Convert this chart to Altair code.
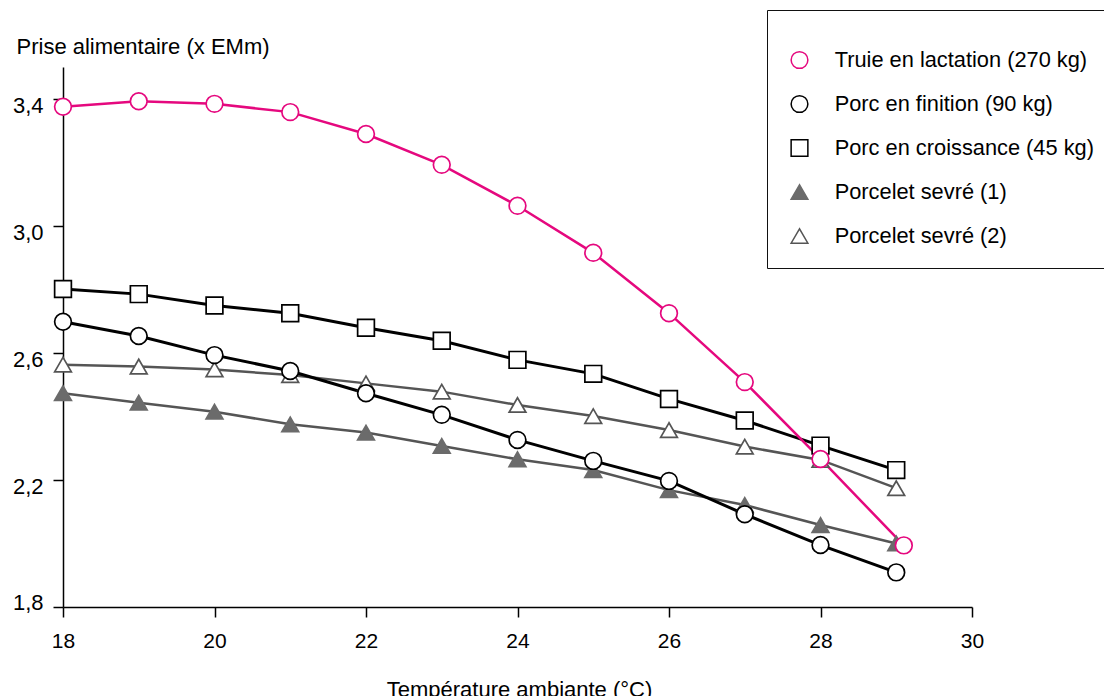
import altair as alt
import pandas as pd

temps = [18, 19, 20, 21, 22, 23, 24, 25, 26, 27, 28, 29]
truie_temps = [18, 19, 20, 21, 22, 23, 24, 25, 26, 27, 28, 29.1]

series_names = [
    "Truie en lactation (270 kg)",
    "Porc en finition (90 kg)",
    "Porc en croissance (45 kg)",
    "Porcelet sevré (1)",
    "Porcelet sevré (2)",
]

truie = [3.375, 3.392, 3.384, 3.358, 3.289, 3.192, 3.063, 2.915, 2.725, 2.508, 2.266, 1.994]
finition = [2.698, 2.653, 2.593, 2.543, 2.473, 2.405, 2.326, 2.260, 2.197, 2.092, 1.995, 1.909]
croissance = [2.801, 2.785, 2.749, 2.725, 2.679, 2.638, 2.578, 2.534, 2.455, 2.387, 2.308, 2.231]
sevre1 = [2.473, 2.443, 2.415, 2.375, 2.349, 2.307, 2.265, 2.231, 2.168, 2.121, 2.058, 2.000]
sevre2 = [2.563, 2.557, 2.548, 2.530, 2.504, 2.478, 2.436, 2.401, 2.357, 2.305, 2.263, 2.174]

y_ticks = [1.8, 2.2, 2.6, 3.0, 3.4]
x_ticks = [18, 20, 22, 24, 26, 28, 30]

stroke_colors = ["#e5087e", "#000000", "#000000", "#6b6b6b", "#555555"]
fill_colors = ["#ffffff", "#ffffff", "#ffffff", "#6b6b6b", "#ffffff"]
shapes = ["circle", "circle", "square", "triangle-up", "triangle-up"]
line_colors = {"Truie en lactation (270 kg)": "#e5087e",
               "Porc en finition (90 kg)": "#000000",
               "Porc en croissance (45 kg)": "#000000",
               "Porcelet sevré (1)": "#555555",
               "Porcelet sevré (2)": "#555555"}
line_widths = {"Truie en lactation (270 kg)": 2.5,
               "Porc en finition (90 kg)": 3,
               "Porc en croissance (45 kg)": 3,
               "Porcelet sevré (1)": 2.5,
               "Porcelet sevré (2)": 2.5}

# draw order (last on top)
draw_order = [
    ("Porcelet sevré (2)", temps, sevre2),
    ("Porcelet sevré (1)", temps, sevre1),
    ("Porc en croissance (45 kg)", temps, croissance),
    ("Porc en finition (90 kg)", temps, finition),
    ("Truie en lactation (270 kg)", truie_temps, truie),
]

rows = []
for name, xs, ys in draw_order:
    for xv, yv in zip(xs, ys):
        rows.append({"series": name, "temp": xv, "value": yv})
df = pd.DataFrame(rows)

x_enc = alt.X("temp:Q",
              scale=alt.Scale(domain=[18, 30], nice=False, zero=False),
              axis=alt.Axis(values=x_ticks, format="d",
                            title="Température ambiante (°C)",
                            titleX=456, titleY=89, titleAlign="center",
                            titleBaseline="alphabetic", titleAngle=0,
                            titleFontSize=22, titleFontWeight="normal",
                            labelFontSize=21, labelPadding=13, tickSize=10,
                            labelFlush=False,
                            grid=False))
y_enc = alt.Y("value:Q",
              scale=alt.Scale(domain=[1.8, 3.5], nice=False, zero=False),
              axis=alt.Axis(values=y_ticks,
                            labelExpr="replace(format(datum.value, '.1f'), '.', ',')",
                            title="Prise alimentaire (x EMm)",
                            titleAngle=0, titleAlign="left", titleBaseline="alphabetic",
                            titleX=-47, titleY=-13.5,
                            titleFontSize=22, titleFontWeight="normal",
                            labelFontSize=22, labelPadding=10, tickSize=10,
                            labelBaseline="middle",
                            labelOffset={"condition": {"test": "datum.value < 1.85", "value": -4.5},
                                         "value": 6.5},
                            grid=False))

legend = alt.Legend(title=" ", orient="none", legendX=704, legendY=-57,
                    padding=10, strokeColor="#111111", fillColor="white",
                    symbolSize=280, symbolStrokeWidth=1.5, symbolOffset=11.6,
                    labelOffset=24.3, labelFontSize=21.8, labelLimit=400,
                    clipHeight=44, rowPadding=0, titleFontSize=10, titlePadding=8)

layers = []
base = alt.Chart(df)
for name, xs, ys in draw_order:
    sub = base.transform_filter(alt.datum.series == name)
    layers.append(sub.mark_line(color=line_colors[name], strokeWidth=line_widths[name]).encode(
        x=x_enc, y=y_enc))
for name, xs, ys in draw_order:
    sub = base.transform_filter(alt.datum.series == name)
    layers.append(sub.mark_point(size=280, strokeWidth=1.7, opacity=1).encode(
        x=x_enc, y=y_enc,
        stroke=alt.Stroke("series:N", scale=alt.Scale(domain=series_names, range=stroke_colors), legend=legend),
        fill=alt.Fill("series:N", scale=alt.Scale(domain=series_names, range=fill_colors), legend=legend),
        shape=alt.Shape("series:N", scale=alt.Scale(domain=series_names, range=shapes), legend=legend),
    ))

chart = alt.layer(*layers).properties(
    width=909, height=540,
    autosize=alt.AutoSizeParams(type="none"),
    padding={"left": 55, "top": 59, "right": 132, "bottom": 89},
    background="white",
).configure(font="Liberation Sans").configure_view(stroke=None).configure_axis(
    domainColor="black", domainWidth=1.5, tickColor="black", tickWidth=1.5,
    labelColor="black", titleColor="black"
).configure_legend(labelColor="black")

chart.save("out.html", embed_options={"renderer": "svg", "actions": False})
